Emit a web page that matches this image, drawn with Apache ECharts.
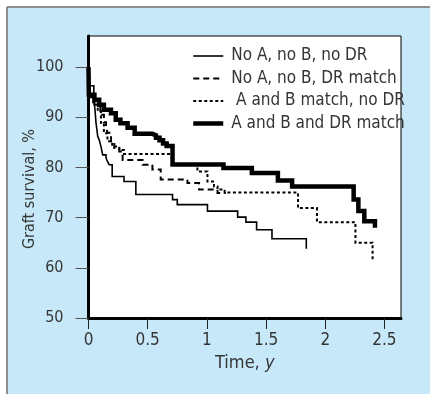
<!DOCTYPE html>
<html>
<head>
<meta charset="utf-8">
<script src="https://cdn.jsdelivr.net/npm/echarts@6/dist/echarts.min.js"></script>
<style>
html,body{margin:0;padding:0;background:#fff;}
#chart{width:430px;height:394px;}
</style>
</head>
<body>
<div id="chart"></div>
<script>
// ---- data (time in years, graft survival in %) ----
var seriesNames = ['No A, no B, no DR', 'No A, no B, DR match', ' A and B match, no DR', 'A and B and DR match'];
var noAnoBnoDR = [[0,100],[0.002,96.3],[0.045,93.7],[0.055,91.5],[0.063,89],[0.078,86.2],[0.09,85.5],[0.105,84.2],[0.12,82.5],[0.148,81.9],[0.16,81.2],[0.175,80.55],[0.2,78.2],[0.3,77.2],[0.4,74.6],[0.71,73.6],[0.75,72.6],[1.005,71.3],[1.26,70.1],[1.33,69.1],[1.42,67.6],[1.55,65.8],[1.84,63.8]];
var noAnoBDR = [[0,100],[0.003,94],[0.05,92.5],[0.1,90.5],[0.13,89],[0.148,88.2],[0.16,86.9],[0.19,84.9],[0.218,83.9],[0.26,83.2],[0.288,81.5],[0.457,80.55],[0.54,79.6],[0.61,77.6],[0.836,76.9],[0.934,75.6],[1.09,74.9],[1.16,74.9]];
var ABnoDR = [[0,100],[0.003,94],[0.04,93],[0.078,91.5],[0.105,88.9],[0.13,86.8],[0.16,85.2],[0.2,84.2],[0.26,83.5],[0.3,82.7],[0.71,80.5],[0.92,79.2],[1.005,77.2],[1.06,76.2],[1.09,75.6],[1.15,75.0],[1.77,71.9],[1.93,69.1],[2.255,65.0],[2.4,61.2]];
var ABDR = [[0,100],[0.003,94.5],[0.05,93.5],[0.09,92.5],[0.13,91.5],[0.19,90.8],[0.23,89.5],[0.27,88.8],[0.33,87.9],[0.39,86.7],[0.54,86.4],[0.57,85.9],[0.6,85.4],[0.63,84.8],[0.66,84.3],[0.71,80.6],[1.14,79.9],[1.38,78.9],[1.6,77.4],[1.72,76.2],[2.24,73.6],[2.28,71.3],[2.33,69.3],[2.42,68.0]];
var yTicks = [50,60,70,80,90,100];
var xTicks = [0,0.5,1,1.5,2,2.5];

var FONT = "'Liberation Sans Narrow','DejaVu Sans Condensed','Liberation Sans',sans-serif";
var TXT = '#353535';
var widths = [1.6, 2, 2, 4.5];
var dashes = ['solid', [6,4], [3,2.5], 'solid'];

var chart = echarts.init(document.getElementById('chart'), null, {renderer:'canvas'});
function mk(i, data){
  return {name:seriesNames[i], type:'line', step:'end', data:data, symbol:'none', showSymbol:false,
    animation:false, z:3+i, color:'#000', itemStyle:{color:'#000'},
    lineStyle:{color:'#000', width:widths[i], type:dashes[i], cap:'butt', join:'miter'}};
}
chart.setOption({
  animation:false,
  backgroundColor:'#fff',
  graphic:[
    {type:'rect', z:-10, silent:true, shape:{x:7,y:7,width:430,height:394}, style:{fill:'#c7e8f8'}},
    {type:'line', z:-9, silent:true, shape:{x1:7,y1:7,x2:430,y2:7}, style:{stroke:'#6e6e6e', lineWidth:1.5}},
    {type:'line', z:-9, silent:true, shape:{x1:7,y1:7,x2:7,y2:394}, style:{stroke:'#6e6e6e', lineWidth:1.5}}
  ],
  grid:{left:88.5, right:29, top:36, bottom:76, show:true, backgroundColor:'#fff', borderColor:'#000', borderWidth:1, containLabel:false},
  legend:{
    orient:'vertical', left:186, top:42.5, itemWidth:30, itemHeight:14, itemGap:5.5, align:'left',
    itemStyle:{color:'rgba(0,0,0,0)', borderWidth:0, borderColor:'rgba(0,0,0,0)'},
    textStyle:{fontFamily:FONT, fontSize:17, lineHeight:17, color:TXT, padding:[0,0,0,3]},
    data:seriesNames.map(function(n, i){
      return {name:n, lineStyle:{color:'#000', width:widths[i], type:dashes[i], cap:'butt'}};
    })
  },
  xAxis:{
    type:'value', min:0, max:2.64,
    name:'Time, {i|y}', nameLocation:'middle', nameGap:36, nameMoveOverlap:false,
    nameTextStyle:{fontFamily:FONT, fontSize:18, color:TXT, rich:{i:{fontFamily:FONT, fontSize:18, color:TXT, fontStyle:'italic'}}},
    axisLine:{show:true, onZero:false, lineStyle:{color:'#000', width:3}},
    axisTick:{show:true, inside:false, length:11, lineStyle:{color:'#222', width:1}, customValues:xTicks},
    axisLabel:{fontFamily:FONT, fontSize:17, color:TXT, margin:14, customValues:xTicks,
      formatter:function(v){return String(v);}},
    splitLine:{show:false}
  },
  yAxis:{
    type:'value', min:50, max:106.2,
    name:'Graft survival, %', nameLocation:'middle', nameGap:51, nameRotate:90, nameMoveOverlap:false,
    nameTextStyle:{fontFamily:FONT, fontSize:16, color:TXT, padding:[0,24,0,0]},
    axisLine:{show:true, onZero:false, lineStyle:{color:'#000', width:3}},
    axisTick:{show:true, inside:false, length:13, lineStyle:{color:'#555', width:1}, customValues:yTicks},
    axisLabel:{fontFamily:FONT, fontSize:16, color:TXT, margin:25, customValues:yTicks},
    splitLine:{show:false}
  },
  series:[
    mk(0, noAnoBnoDR),
    mk(1, noAnoBDR),
    mk(2, ABnoDR),
    mk(3, ABDR)
  ]
});
</script>
</body>
</html>
